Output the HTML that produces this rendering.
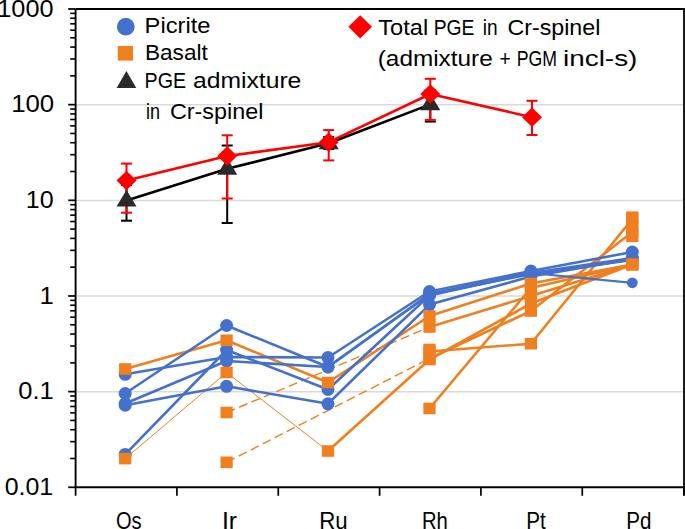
<!DOCTYPE html>
<html><head><meta charset="utf-8"><style>
html,body{margin:0;padding:0;background:#fff;}
svg{display:block;}
text{font-family:"Liberation Sans", sans-serif;fill:#000;}
</style></head><body>
<svg width="685" height="529" viewBox="0 0 685 529">
<rect width="685" height="529" fill="#fff"/>
<line x1="75.6" y1="104.8" x2="683.6" y2="104.8" stroke="#D9D9D9" stroke-width="1.5"/>
<line x1="75.6" y1="200.4" x2="683.6" y2="200.4" stroke="#D9D9D9" stroke-width="1.5"/>
<line x1="75.6" y1="296.1" x2="683.6" y2="296.1" stroke="#D9D9D9" stroke-width="1.5"/>
<line x1="75.6" y1="391.7" x2="683.6" y2="391.7" stroke="#D9D9D9" stroke-width="1.5"/>
<line x1="75.6" y1="9.0" x2="685" y2="9.0" stroke="#000" stroke-width="1.9"/>
<line x1="75.6" y1="487.3" x2="685" y2="487.3" stroke="#000" stroke-width="2"/>
<line x1="75.6" y1="9.0" x2="75.6" y2="487.3" stroke="#000" stroke-width="1.9"/>
<line x1="684" y1="9.0" x2="684" y2="487.3" stroke="#1a1a1a" stroke-width="2"/>
<line x1="68.2" y1="9.00" x2="75.6" y2="9.00" stroke="#000" stroke-width="1.75"/>
<line x1="70.2" y1="75.86" x2="75.6" y2="75.86" stroke="#000" stroke-width="1.6"/>
<line x1="70.2" y1="59.02" x2="75.6" y2="59.02" stroke="#000" stroke-width="1.6"/>
<line x1="70.2" y1="47.07" x2="75.6" y2="47.07" stroke="#000" stroke-width="1.6"/>
<line x1="70.2" y1="37.80" x2="75.6" y2="37.80" stroke="#000" stroke-width="1.6"/>
<line x1="70.2" y1="30.22" x2="75.6" y2="30.22" stroke="#000" stroke-width="1.6"/>
<line x1="70.2" y1="23.82" x2="75.6" y2="23.82" stroke="#000" stroke-width="1.6"/>
<line x1="70.2" y1="18.27" x2="75.6" y2="18.27" stroke="#000" stroke-width="1.6"/>
<line x1="70.2" y1="13.38" x2="75.6" y2="13.38" stroke="#000" stroke-width="1.6"/>
<line x1="68.2" y1="104.66" x2="75.6" y2="104.66" stroke="#000" stroke-width="1.75"/>
<line x1="70.2" y1="171.52" x2="75.6" y2="171.52" stroke="#000" stroke-width="1.6"/>
<line x1="70.2" y1="154.68" x2="75.6" y2="154.68" stroke="#000" stroke-width="1.6"/>
<line x1="70.2" y1="142.73" x2="75.6" y2="142.73" stroke="#000" stroke-width="1.6"/>
<line x1="70.2" y1="133.46" x2="75.6" y2="133.46" stroke="#000" stroke-width="1.6"/>
<line x1="70.2" y1="125.88" x2="75.6" y2="125.88" stroke="#000" stroke-width="1.6"/>
<line x1="70.2" y1="119.48" x2="75.6" y2="119.48" stroke="#000" stroke-width="1.6"/>
<line x1="70.2" y1="113.93" x2="75.6" y2="113.93" stroke="#000" stroke-width="1.6"/>
<line x1="70.2" y1="109.04" x2="75.6" y2="109.04" stroke="#000" stroke-width="1.6"/>
<line x1="68.2" y1="200.32" x2="75.6" y2="200.32" stroke="#000" stroke-width="1.75"/>
<line x1="70.2" y1="267.18" x2="75.6" y2="267.18" stroke="#000" stroke-width="1.6"/>
<line x1="70.2" y1="250.34" x2="75.6" y2="250.34" stroke="#000" stroke-width="1.6"/>
<line x1="70.2" y1="238.39" x2="75.6" y2="238.39" stroke="#000" stroke-width="1.6"/>
<line x1="70.2" y1="229.12" x2="75.6" y2="229.12" stroke="#000" stroke-width="1.6"/>
<line x1="70.2" y1="221.54" x2="75.6" y2="221.54" stroke="#000" stroke-width="1.6"/>
<line x1="70.2" y1="215.14" x2="75.6" y2="215.14" stroke="#000" stroke-width="1.6"/>
<line x1="70.2" y1="209.59" x2="75.6" y2="209.59" stroke="#000" stroke-width="1.6"/>
<line x1="70.2" y1="204.70" x2="75.6" y2="204.70" stroke="#000" stroke-width="1.6"/>
<line x1="68.2" y1="295.98" x2="75.6" y2="295.98" stroke="#000" stroke-width="1.75"/>
<line x1="70.2" y1="362.84" x2="75.6" y2="362.84" stroke="#000" stroke-width="1.6"/>
<line x1="70.2" y1="346.00" x2="75.6" y2="346.00" stroke="#000" stroke-width="1.6"/>
<line x1="70.2" y1="334.05" x2="75.6" y2="334.05" stroke="#000" stroke-width="1.6"/>
<line x1="70.2" y1="324.78" x2="75.6" y2="324.78" stroke="#000" stroke-width="1.6"/>
<line x1="70.2" y1="317.20" x2="75.6" y2="317.20" stroke="#000" stroke-width="1.6"/>
<line x1="70.2" y1="310.80" x2="75.6" y2="310.80" stroke="#000" stroke-width="1.6"/>
<line x1="70.2" y1="305.25" x2="75.6" y2="305.25" stroke="#000" stroke-width="1.6"/>
<line x1="70.2" y1="300.36" x2="75.6" y2="300.36" stroke="#000" stroke-width="1.6"/>
<line x1="68.2" y1="391.64" x2="75.6" y2="391.64" stroke="#000" stroke-width="1.75"/>
<line x1="70.2" y1="458.50" x2="75.6" y2="458.50" stroke="#000" stroke-width="1.6"/>
<line x1="70.2" y1="441.66" x2="75.6" y2="441.66" stroke="#000" stroke-width="1.6"/>
<line x1="70.2" y1="429.71" x2="75.6" y2="429.71" stroke="#000" stroke-width="1.6"/>
<line x1="70.2" y1="420.44" x2="75.6" y2="420.44" stroke="#000" stroke-width="1.6"/>
<line x1="70.2" y1="412.86" x2="75.6" y2="412.86" stroke="#000" stroke-width="1.6"/>
<line x1="70.2" y1="406.46" x2="75.6" y2="406.46" stroke="#000" stroke-width="1.6"/>
<line x1="70.2" y1="400.91" x2="75.6" y2="400.91" stroke="#000" stroke-width="1.6"/>
<line x1="70.2" y1="396.02" x2="75.6" y2="396.02" stroke="#000" stroke-width="1.6"/>
<line x1="68.2" y1="487.3" x2="75.6" y2="487.3" stroke="#000" stroke-width="1.75"/>
<line x1="75.60" y1="487.3" x2="75.60" y2="495.8" stroke="#000" stroke-width="1.7"/>
<line x1="176.93" y1="487.3" x2="176.93" y2="495.8" stroke="#000" stroke-width="1.7"/>
<line x1="278.27" y1="487.3" x2="278.27" y2="495.8" stroke="#000" stroke-width="1.7"/>
<line x1="379.60" y1="487.3" x2="379.60" y2="495.8" stroke="#000" stroke-width="1.7"/>
<line x1="480.93" y1="487.3" x2="480.93" y2="495.8" stroke="#000" stroke-width="1.7"/>
<line x1="582.27" y1="487.3" x2="582.27" y2="495.8" stroke="#000" stroke-width="1.7"/>
<line x1="684.00" y1="487.3" x2="684.00" y2="495.8" stroke="#000" stroke-width="2.0"/>
<polyline points="125.2,369.0 226.6,340.3" fill="none" stroke="#EF7F1F" stroke-width="2.6" stroke-linejoin="round"/>
<polyline points="226.6,340.3 328.0,382.5" fill="none" stroke="#EF7F1F" stroke-width="2.6" stroke-linejoin="round"/>
<polyline points="328.0,382.5 429.5,316.0" fill="none" stroke="#EF7F1F" stroke-width="2.6" stroke-linejoin="round"/>
<polyline points="429.5,316.0 530.9,283.5" fill="none" stroke="#EF7F1F" stroke-width="2.6" stroke-linejoin="round"/>
<polyline points="530.9,283.5 632.3,264.5" fill="none" stroke="#EF7F1F" stroke-width="2.6" stroke-linejoin="round"/>
<polyline points="125.2,458.6 226.6,372.5" fill="none" stroke="#EF7F1F" stroke-width="1.0" stroke-linejoin="round"/>
<polyline points="226.6,372.5 328.0,451.0" fill="none" stroke="#EF7F1F" stroke-width="1.0" stroke-linejoin="round"/>
<polyline points="328.0,451.0 429.5,359.5" fill="none" stroke="#EF7F1F" stroke-width="2.6" stroke-linejoin="round"/>
<polyline points="429.5,359.5 530.9,303.5" fill="none" stroke="#EF7F1F" stroke-width="2.6" stroke-linejoin="round"/>
<polyline points="530.9,303.5 632.3,264.5" fill="none" stroke="#EF7F1F" stroke-width="2.6" stroke-linejoin="round"/>
<polyline points="226.6,412.5 429.5,327.0" fill="none" stroke="#EF7F1F" stroke-width="1.4" stroke-linejoin="round" stroke-dasharray="9 4.5"/>
<polyline points="429.5,327.0 530.9,296.0" fill="none" stroke="#EF7F1F" stroke-width="2.6" stroke-linejoin="round"/>
<polyline points="530.9,296.0 632.3,264.5" fill="none" stroke="#EF7F1F" stroke-width="2.6" stroke-linejoin="round"/>
<polyline points="226.6,462.3 429.5,358.5" fill="none" stroke="#EF7F1F" stroke-width="1.4" stroke-linejoin="round" stroke-dasharray="9 4.5"/>
<polyline points="429.5,358.5 530.9,311.0" fill="none" stroke="#EF7F1F" stroke-width="2.6" stroke-linejoin="round"/>
<polyline points="530.9,311.0 632.3,232.0" fill="none" stroke="#EF7F1F" stroke-width="2.6" stroke-linejoin="round"/>
<polyline points="429.5,351.5 530.9,343.7" fill="none" stroke="#EF7F1F" stroke-width="2.6" stroke-linejoin="round"/>
<polyline points="530.9,343.7 632.3,219.0" fill="none" stroke="#EF7F1F" stroke-width="2.6" stroke-linejoin="round"/>
<polyline points="429.5,408.5 530.9,288.0" fill="none" stroke="#EF7F1F" stroke-width="2.6" stroke-linejoin="round"/>
<polyline points="530.9,288.0 632.3,264.5" fill="none" stroke="#EF7F1F" stroke-width="2.6" stroke-linejoin="round"/>
<polyline points="125.2,374.3 226.6,357.0 328.0,357.5 429.5,291.5 530.9,271.0 632.3,252.0" fill="none" stroke="#4471CC" stroke-width="2.6" stroke-linejoin="round"/>
<polyline points="125.2,393.5 226.6,325.5 328.0,367.0 429.5,294.0 530.9,273.0 632.3,258.0" fill="none" stroke="#4471CC" stroke-width="2.6" stroke-linejoin="round"/>
<polyline points="125.2,403.5 226.6,361.0 328.0,367.0 429.5,294.5 530.9,274.0 632.3,260.0" fill="none" stroke="#4471CC" stroke-width="2.6" stroke-linejoin="round"/>
<polyline points="125.2,405.2 226.6,386.3 328.0,403.8 429.5,304.6 530.9,276.5 632.3,259.0" fill="none" stroke="#4471CC" stroke-width="2.6" stroke-linejoin="round"/>
<polyline points="125.2,454.4 226.6,350.0 328.0,389.5 429.5,295.5 530.9,273.0" fill="none" stroke="#4471CC" stroke-width="2.6" stroke-linejoin="round"/>
<polyline points="530.9,273.0 632.3,282.8" fill="none" stroke="#4471CC" stroke-width="2.2" stroke-linejoin="round"/>
<circle cx="125.2" cy="374.3" r="6.5" fill="#4471CC"/>
<circle cx="226.6" cy="357.0" r="6.5" fill="#4471CC"/>
<circle cx="328.0" cy="357.5" r="6.5" fill="#4471CC"/>
<circle cx="429.5" cy="291.5" r="6.5" fill="#4471CC"/>
<circle cx="530.9" cy="271.0" r="6.5" fill="#4471CC"/>
<circle cx="632.3" cy="252.0" r="6.5" fill="#4471CC"/>
<circle cx="125.2" cy="393.5" r="6.5" fill="#4471CC"/>
<circle cx="226.6" cy="325.5" r="6.5" fill="#4471CC"/>
<circle cx="328.0" cy="367.0" r="6.5" fill="#4471CC"/>
<circle cx="429.5" cy="294.0" r="6.5" fill="#4471CC"/>
<circle cx="530.9" cy="273.0" r="6.5" fill="#4471CC"/>
<circle cx="632.3" cy="258.0" r="6.5" fill="#4471CC"/>
<circle cx="125.2" cy="403.5" r="6.5" fill="#4471CC"/>
<circle cx="226.6" cy="361.0" r="6.5" fill="#4471CC"/>
<circle cx="328.0" cy="367.0" r="6.5" fill="#4471CC"/>
<circle cx="429.5" cy="294.5" r="6.5" fill="#4471CC"/>
<circle cx="530.9" cy="274.0" r="6.5" fill="#4471CC"/>
<circle cx="632.3" cy="260.0" r="6.5" fill="#4471CC"/>
<circle cx="125.2" cy="405.2" r="6.5" fill="#4471CC"/>
<circle cx="226.6" cy="386.3" r="6.5" fill="#4471CC"/>
<circle cx="328.0" cy="403.8" r="6.5" fill="#4471CC"/>
<circle cx="429.5" cy="304.6" r="6.5" fill="#4471CC"/>
<circle cx="530.9" cy="276.5" r="6.5" fill="#4471CC"/>
<circle cx="632.3" cy="259.0" r="6.5" fill="#4471CC"/>
<circle cx="125.2" cy="454.4" r="6.5" fill="#4471CC"/>
<circle cx="226.6" cy="350.0" r="6.5" fill="#4471CC"/>
<circle cx="328.0" cy="389.5" r="6.5" fill="#4471CC"/>
<circle cx="429.5" cy="295.5" r="6.5" fill="#4471CC"/>
<circle cx="530.9" cy="273.0" r="6.5" fill="#4471CC"/>
<circle cx="632.3" cy="282.8" r="5.4" fill="#4471CC"/>
<rect x="119.1" y="363.2" width="12.2" height="11.6" fill="#EF7F1F"/>
<rect x="220.5" y="334.5" width="12.2" height="11.6" fill="#EF7F1F"/>
<rect x="321.9" y="376.7" width="12.2" height="11.6" fill="#EF7F1F"/>
<rect x="423.4" y="310.2" width="12.2" height="11.6" fill="#EF7F1F"/>
<rect x="524.8" y="277.7" width="12.2" height="11.6" fill="#EF7F1F"/>
<rect x="626.2" y="258.7" width="12.2" height="11.6" fill="#EF7F1F"/>
<rect x="119.1" y="452.8" width="12.2" height="11.6" fill="#EF7F1F"/>
<rect x="220.5" y="366.7" width="12.2" height="11.6" fill="#EF7F1F"/>
<rect x="321.9" y="445.2" width="12.2" height="11.6" fill="#EF7F1F"/>
<rect x="423.4" y="353.7" width="12.2" height="11.6" fill="#EF7F1F"/>
<rect x="524.8" y="297.7" width="12.2" height="11.6" fill="#EF7F1F"/>
<rect x="626.2" y="258.7" width="12.2" height="11.6" fill="#EF7F1F"/>
<rect x="220.5" y="406.7" width="12.2" height="11.6" fill="#EF7F1F"/>
<rect x="423.4" y="321.2" width="12.2" height="11.6" fill="#EF7F1F"/>
<rect x="524.8" y="290.2" width="12.2" height="11.6" fill="#EF7F1F"/>
<rect x="626.2" y="258.7" width="12.2" height="11.6" fill="#EF7F1F"/>
<rect x="220.5" y="456.5" width="12.2" height="11.6" fill="#EF7F1F"/>
<rect x="423.4" y="352.7" width="12.2" height="11.6" fill="#EF7F1F"/>
<rect x="524.8" y="305.2" width="12.2" height="11.6" fill="#EF7F1F"/>
<rect x="626.2" y="226.2" width="12.2" height="11.6" fill="#EF7F1F"/>
<rect x="423.4" y="345.7" width="12.2" height="11.6" fill="#EF7F1F"/>
<rect x="524.8" y="337.9" width="12.2" height="11.6" fill="#EF7F1F"/>
<rect x="626.2" y="213.2" width="12.2" height="11.6" fill="#EF7F1F"/>
<rect x="423.4" y="402.7" width="12.2" height="11.6" fill="#EF7F1F"/>
<rect x="524.8" y="282.2" width="12.2" height="11.6" fill="#EF7F1F"/>
<rect x="626.2" y="258.7" width="12.2" height="11.6" fill="#EF7F1F"/>
<rect x="626.2" y="211.4" width="12.2" height="11.6" fill="#EF7F1F"/>
<rect x="423.4" y="343.7" width="12.2" height="11.6" fill="#EF7F1F"/>
<rect x="626.2" y="220.7" width="12.2" height="11.6" fill="#EF7F1F"/>
<rect x="626.2" y="230.5" width="12.2" height="11.6" fill="#EF7F1F"/>
<polyline points="126.5,200.6 227.2,168.8 328.7,143.3 430.3,104.4" fill="none" stroke="#000" stroke-width="2.6" stroke-linejoin="round"/>
<line x1="126.5" y1="185.0" x2="126.5" y2="220.7" stroke="#000" stroke-width="2"/>
<line x1="121.0" y1="185.0" x2="132.0" y2="185.0" stroke="#000" stroke-width="2"/>
<line x1="121.0" y1="220.7" x2="132.0" y2="220.7" stroke="#000" stroke-width="2"/>
<line x1="227.2" y1="145.5" x2="227.2" y2="223.0" stroke="#000" stroke-width="2"/>
<line x1="221.7" y1="145.5" x2="232.7" y2="145.5" stroke="#000" stroke-width="2"/>
<line x1="221.7" y1="223.0" x2="232.7" y2="223.0" stroke="#000" stroke-width="2"/>
<line x1="328.7" y1="137.0" x2="328.7" y2="149.0" stroke="#000" stroke-width="2"/>
<line x1="323.2" y1="137.0" x2="334.2" y2="137.0" stroke="#000" stroke-width="2"/>
<line x1="323.2" y1="149.0" x2="334.2" y2="149.0" stroke="#000" stroke-width="2"/>
<line x1="430.3" y1="90.0" x2="430.3" y2="121.6" stroke="#000" stroke-width="2"/>
<line x1="424.8" y1="90.0" x2="435.8" y2="90.0" stroke="#000" stroke-width="2"/>
<line x1="424.8" y1="121.6" x2="435.8" y2="121.6" stroke="#000" stroke-width="2"/>
<polyline points="126.5,180.5 227.2,156.0 328.7,142.2 430.3,94.0 532.0,117.2" fill="none" stroke="#FF0000" stroke-width="2.6" stroke-linejoin="round"/>
<line x1="126.5" y1="163.6" x2="126.5" y2="212.7" stroke="#FF0000" stroke-width="2"/>
<line x1="121.0" y1="163.6" x2="132.0" y2="163.6" stroke="#FF0000" stroke-width="2"/>
<line x1="121.0" y1="212.7" x2="132.0" y2="212.7" stroke="#FF0000" stroke-width="2"/>
<line x1="227.2" y1="135.3" x2="227.2" y2="198.5" stroke="#FF0000" stroke-width="2"/>
<line x1="221.7" y1="135.3" x2="232.7" y2="135.3" stroke="#FF0000" stroke-width="2"/>
<line x1="221.7" y1="198.5" x2="232.7" y2="198.5" stroke="#FF0000" stroke-width="2"/>
<line x1="328.7" y1="130.1" x2="328.7" y2="160.4" stroke="#FF0000" stroke-width="2"/>
<line x1="323.2" y1="130.1" x2="334.2" y2="130.1" stroke="#FF0000" stroke-width="2"/>
<line x1="323.2" y1="160.4" x2="334.2" y2="160.4" stroke="#FF0000" stroke-width="2"/>
<line x1="430.3" y1="78.8" x2="430.3" y2="119.9" stroke="#FF0000" stroke-width="2"/>
<line x1="424.8" y1="78.8" x2="435.8" y2="78.8" stroke="#FF0000" stroke-width="2"/>
<line x1="424.8" y1="119.9" x2="435.8" y2="119.9" stroke="#FF0000" stroke-width="2"/>
<line x1="532.0" y1="100.8" x2="532.0" y2="135.0" stroke="#FF0000" stroke-width="2"/>
<line x1="526.5" y1="100.8" x2="537.5" y2="100.8" stroke="#FF0000" stroke-width="2"/>
<line x1="526.5" y1="135.0" x2="537.5" y2="135.0" stroke="#FF0000" stroke-width="2"/>
<polygon points="126.5,189.9 136.5,206.5 116.5,206.5" fill="#2A2A2A"/>
<polygon points="227.2,158.1 237.2,174.7 217.2,174.7" fill="#2A2A2A"/>
<polygon points="328.7,132.6 338.7,149.2 318.7,149.2" fill="#2A2A2A"/>
<polygon points="430.3,93.7 440.3,110.3 420.3,110.3" fill="#2A2A2A"/>
<polygon points="126.5,170.7 136.5,180.5 126.5,190.3 116.5,180.5" fill="#FF0000"/>
<polygon points="227.2,146.2 237.2,156.0 227.2,165.8 217.2,156.0" fill="#FF0000"/>
<polygon points="328.7,132.4 338.7,142.2 328.7,152.0 318.7,142.2" fill="#FF0000"/>
<polygon points="430.3,84.2 440.3,94.0 430.3,103.8 420.3,94.0" fill="#FF0000"/>
<polygon points="532.0,107.4 542.0,117.2 532.0,127.0 522.0,117.2" fill="#FF0000"/>
<circle cx="125.8" cy="26.7" r="8.9" fill="#4471CC"/>
<rect x="117.8" y="46.0" width="15.2" height="14.6" fill="#EF7F1F"/>
<polygon points="126.4,71 136.3,88 116.6,88" fill="#2A2A2A"/>
<polygon points="360.2,15.3 372,26.8 360.2,38.4 348.4,26.8" fill="#FF0000"/>
<text x="144.58" y="33.0" font-size="21.4" textLength="65.90" lengthAdjust="spacingAndGlyphs">Picrite</text>
<text x="144.99" y="60.2" font-size="21.4" textLength="62.79" lengthAdjust="spacingAndGlyphs">Basalt</text>
<text x="144.56" y="87.6" font-size="21.4" textLength="41.51" lengthAdjust="spacingAndGlyphs">PGE</text>
<text x="192.95" y="87.6" font-size="21.4" textLength="108.42" lengthAdjust="spacingAndGlyphs">admixture</text>
<text x="145.96" y="118.9" font-size="21.4" textLength="14.04" lengthAdjust="spacingAndGlyphs">in</text>
<text x="169.91" y="118.9" font-size="21.4" textLength="93.53" lengthAdjust="spacingAndGlyphs">Cr-spinel</text>
<text x="378.30" y="34.6" font-size="21.4" textLength="49.91" lengthAdjust="spacingAndGlyphs">Total</text>
<text x="433.70" y="34.6" font-size="21.4" textLength="40.77" lengthAdjust="spacingAndGlyphs">PGE</text>
<text x="482.71" y="34.6" font-size="21.4" textLength="14.87" lengthAdjust="spacingAndGlyphs">in</text>
<text x="507.41" y="34.6" font-size="21.4" textLength="92.92" lengthAdjust="spacingAndGlyphs">Cr-spinel</text>
<text x="377.76" y="65.9" font-size="21.4" textLength="114.93" lengthAdjust="spacingAndGlyphs">(admixture</text>
<text x="499.40" y="65.9" font-size="21.4" textLength="11.25" lengthAdjust="spacingAndGlyphs">+</text>
<text x="516.75" y="65.9" font-size="21.4" textLength="40.29" lengthAdjust="spacingAndGlyphs">PGM</text>
<text x="563.00" y="65.9" font-size="21.4" textLength="74.37" lengthAdjust="spacingAndGlyphs">incl-s)</text>
<text x="-2.71" y="16.6" font-size="24" textLength="56.22" lengthAdjust="spacingAndGlyphs">1000</text>
<text x="11.15" y="112.4" font-size="24" textLength="43.08" lengthAdjust="spacingAndGlyphs">100</text>
<text x="25.81" y="208.2" font-size="24" textLength="27.93" lengthAdjust="spacingAndGlyphs">10</text>
<text x="39.56" y="303.6" font-size="24" textLength="14.29" lengthAdjust="spacingAndGlyphs">1</text>
<text x="18.34" y="399.2" font-size="24" textLength="35.42" lengthAdjust="spacingAndGlyphs">0.1</text>
<text x="4.66" y="495.0" font-size="24" textLength="48.48" lengthAdjust="spacingAndGlyphs">0.01</text>
<text x="115.96" y="528.6" font-size="24" textLength="25.70" lengthAdjust="spacingAndGlyphs">Os</text>
<text x="221.94" y="528.6" font-size="24" textLength="15.12" lengthAdjust="spacingAndGlyphs">Ir</text>
<text x="319.15" y="528.6" font-size="24" textLength="28.41" lengthAdjust="spacingAndGlyphs">Ru</text>
<text x="421.92" y="528.6" font-size="24" textLength="25.80" lengthAdjust="spacingAndGlyphs">Rh</text>
<text x="526.28" y="528.6" font-size="24" textLength="19.55" lengthAdjust="spacingAndGlyphs">Pt</text>
<text x="626.28" y="528.6" font-size="24" textLength="25.18" lengthAdjust="spacingAndGlyphs">Pd</text>
</svg>
</body></html>
